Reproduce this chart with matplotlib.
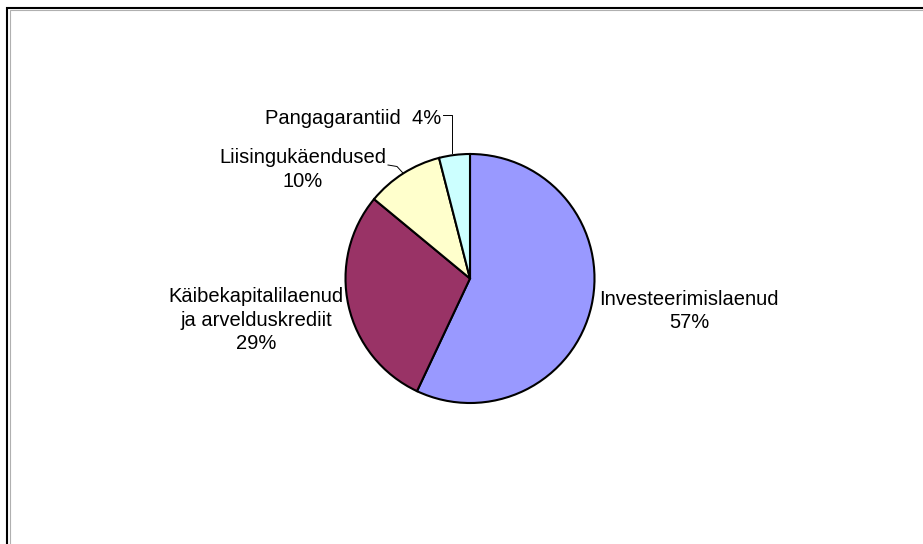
import numpy as np
import matplotlib
matplotlib.use("Agg")
import matplotlib.pyplot as plt
from matplotlib.patches import Rectangle

plt.rcParams['font.family'] = ['Liberation Sans', 'DejaVu Sans']

categories = ["Investeerimislaenud", "Käibekapitalilaenud\nja arvelduskrediit",
              "Liisingukäendused", "Pangagarantiid"]
values = [57, 29, 10, 4]
colors = ["#9999FF", "#993366", "#FFFFCC", "#CCFFFF"]

W, H = 923, 544
fig = plt.figure(figsize=(W / 100, H / 100), dpi=100)
ax = fig.add_axes([0, 0, 1, 1])

cx, cy, r = 470, H - 278.5, 124.5
wedges, _ = ax.pie(values, colors=colors, startangle=90, counterclock=False,
                   center=(cx, cy), radius=r,
                   wedgeprops=dict(edgecolor="black", linewidth=1.5))
ax.set_xlim(0, W)
ax.set_ylim(0, H)
ax.set_aspect('equal')
ax.axis('off')

total = sum(values)
pct = [f"{v / total * 100:.0f}%" for v in values]

def edge_point(w):
    ang = np.deg2rad((w.theta1 + w.theta2) / 2)
    return cx + r * np.cos(ang), cy + r * np.sin(ang)

fs = 14.5
ls = 1.3
# Investeerimislaenud
ax.text(689, H - 311, f"{categories[0]}\n{pct[0]}", ha="center", va="center",
        fontsize=fs, linespacing=ls)
# Käibekapitalilaenud
ax.text(256, H - 320, f"{categories[1]}\n{pct[1]}", ha="center", va="center",
        fontsize=fs, linespacing=ls)
# Liisingukäendused
ax.text(303, H - 169.5, f"{categories[2]}\n{pct[2]}", ha="center", va="center",
        fontsize=fs, linespacing=ls)
ex, ey = edge_point(wedges[2])
ax.plot([388, 397, ex], [H - 165, H - 166.5, ey], color="black", lw=0.7)
# Pangagarantiid
ax.text(441, H - 118, f"{categories[3]}  {pct[3]}", ha="right", va="center",
        fontsize=fs)
ex, ey = edge_point(wedges[3])
ax.plot([443, ex - 2.5, ex - 2.5], [H - 115, H - 115, ey + 1.5], color="black", lw=0.7)

# chart frame (partly outside the image)
fig.patches.append(Rectangle((9.5 / W, -0.5), 2, (H - 10) / H + 0.5,
                             transform=fig.transFigure, fill=False,
                             edgecolor="#b0b0b0", lw=0.8))
fig.patches.append(Rectangle((7.5 / W, -0.5), 2, (H - 8) / H + 0.5,
                             transform=fig.transFigure, fill=False,
                             edgecolor="black", lw=1.5))

fig.savefig("out.png", dpi=100)
